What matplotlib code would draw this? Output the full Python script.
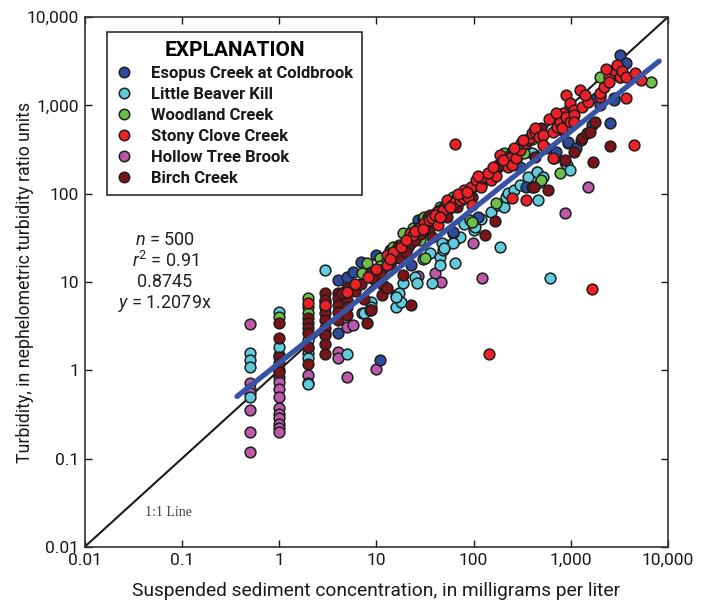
import matplotlib
matplotlib.use('Agg')
import matplotlib.pyplot as plt
from matplotlib import font_manager
from matplotlib.lines import Line2D
import numpy as np

names = {f.name for f in font_manager.fontManager.ttflist}
if 'Liberation Sans Narrow' in names:
    FAM = 'Liberation Sans Narrow'
elif 'Roboto' in names:
    FAM = 'Roboto'
else:
    FAM = 'DejaVu Sans'
plt.rcParams['font.family'] = [FAM, 'DejaVu Sans']
plt.rcParams['mathtext.fontset'] = 'custom'
plt.rcParams['mathtext.rm'] = FAM
plt.rcParams['mathtext.it'] = FAM + ':italic'

# ---------------- data ----------------
esopus_x = [4, 4.0, 5.0, 5.7, 7.0, 10, 13.8, 17.5, 11, 23, 27, 45, 61, 111, 110, 190, 300, 350,
            560, 680, 700, 940, 1140, 1650, 1800, 1990, 2020, 2520, 2800, 2800, 3190, 3190, 3700]
esopus_y = [2.65, 10.6, 11.4, 13, 16.9, 20, 23, 25, 1.3, 15.6, 50, 60, 37, 55, 133, 220, 200, 120,
            330, 255, 300, 385, 330, 600, 1220, 1010, 1320, 630, 1220, 1150, 2100, 3730, 3030]

lbk_x = [0.5, 0.5, 0.5, 0.5, 1, 1, 2, 2, 2, 2, 2, 3, 5, 3.0,
         7.5, 8.9, 8.9, 8.6, 16, 17, 16, 18, 16, 19, 25, 26.5, 37,
         45, 45, 48, 52, 64, 64, 72, 61, 61, 47, 50, 36,
         100, 103, 152, 178, 205, 218, 225, 187,
         610, 361, 447, 515, 480, 460, 430, 400, 870, 910, 980, 940,
         30, 80, 120, 260, 300]
lbk_y = [1.57, 1.31, 1.1, 0.5, 4.6, 1.85, 5.2, 2.2, 1.57, 1.38, 0.70, 6.0, 1.53, 13.7,
         4.5, 6.0, 5.2, 4.8, 7.1, 7.5, 5.2, 6.0, 6.8, 9.8, 11.4, 9.8, 9.8,
         19, 15.6, 23, 26, 16.5, 30, 32, 36, 28, 28, 24, 21.5,
         39, 42, 62, 75, 70, 92, 103, 25,
         11.1, 155, 175, 155, 136, 84, 275, 290, 230, 210, 185, 375,
         18, 45, 52, 110, 125]

wc_x = [1, 2, 2, 7.1, 8.0, 10.9, 12.9, 15, 19, 28, 24, 30, 31, 32, 42,
        45, 61, 89, 92, 96, 170, 205, 205, 250, 280, 330, 500, 720, 770, 6750,
        11, 17, 22, 38, 50, 65, 110, 140, 180, 400, 950, 2000]
wc_y = [4.0, 6.6, 4.5, 12.7, 16.5, 18.8, 17.8, 25, 36, 30, 41, 53, 55, 18.8, 62,
        71, 92, 105, 50, 48, 79, 260, 290, 300, 260, 290, 143, 570, 170, 1850,
        15, 26, 28, 50, 70, 85, 130, 160, 200, 420, 900, 2100]

scc_x = [2, 3, 5, 6.0, 8.2, 12.9, 12.9, 15, 18, 22, 24, 27, 28, 31, 35, 37, 42, 43, 48, 53,
         53, 60, 64, 72, 78, 80, 88, 95, 96, 105, 120, 124, 133, 150, 170, 187, 225, 236, 250, 250,
         275, 300, 310, 350, 350, 360, 380, 400, 430, 430, 470, 520, 520, 650, 650, 720, 770, 810,
         840, 900, 900, 980, 980, 1080, 1080, 1090, 1240, 1300, 1500, 1990, 2020, 2200, 2500, 2500,
         2800, 3000, 3190, 3400, 3700, 3700, 4500, 4600, 5300, 65, 1650, 144,
         10, 14, 20, 25, 30, 40, 45, 58, 70, 85, 110, 140, 160, 200, 260, 320, 600, 700, 1400, 2300]
scc_y = [5.8, 5.5, 7.7, 9.5, 11.4, 15.6, 20, 22, 25, 36, 34, 41, 42, 46, 50, 53, 62, 44, 66, 79,
         85, 75, 81, 85, 90, 110, 92, 120, 75, 143, 120, 150, 155, 143, 160, 275, 200, 255, 90, 210,
         255, 315, 375, 375, 85, 405, 430, 490, 500, 560, 435, 465, 355, 500, 255, 570, 650, 560,
         820, 1320, 740, 1060, 650, 890, 780, 650, 1500, 960, 1100, 1250, 1390, 1620, 2100, 1850,
         2520, 2880, 2100, 2420, 2100, 1220, 355, 2330, 1940, 365, 8.4, 1.55,
         14, 18, 30, 38, 40, 58, 55, 70, 100, 105, 160, 170, 200, 240, 330, 400, 700, 820, 1300, 2600]

htb_x = [0.5, 0.5, 0.5, 0.5, 0.5, 0.5, 0.5,
         1, 1, 1, 1, 1, 1, 1, 1, 1, 1, 1, 1,
         2, 2, 2, 3, 4, 4, 5, 5, 5.7, 7.1, 9.9, 27, 40, 46, 122, 98, 447, 870, 1500]
htb_y = [3.35, 0.72, 0.62, 0.55, 0.36, 0.20, 0.12,
         1.5, 1.0, 0.84, 0.74, 0.62, 0.50, 0.37, 0.32, 0.29, 0.25, 0.22, 0.20,
         1.8, 0.89, 0.72, 2.65, 1.6, 1.38, 3.1, 0.84, 3.3, 4.5, 1.04, 11.6, 12.7, 10, 11.1, 28, 175, 61, 120]

bc_x = [1, 1, 1, 1, 1, 2, 2, 2, 2, 2, 2, 3, 3, 3, 3, 3, 3, 3, 3, 3,
        4, 4, 4, 4, 4, 5, 5, 5, 5, 4.4, 8.0, 8.9, 8.9, 9.7, 10.9, 10.9, 11.4, 11.8, 12.9,
        16.8, 17.5, 19, 21, 23, 25, 34, 35, 36, 37, 47, 54, 60, 67, 75, 85, 96, 120, 130,
        147, 165, 165, 200, 250, 300, 400, 420, 430, 580, 820, 870, 1070, 1260, 1310, 1480,
        1570, 1680, 1770, 2520,
        14, 20, 28, 32, 40, 45, 55, 70, 90, 110, 180, 220, 350, 500, 700,
        6, 7, 7.5, 9]
bc_y = [3.4, 2.3, 1.4, 1.21, 0.97, 3.9, 3.4, 3.0, 2.65, 1.84, 1.18, 7.5, 6.3, 5.2, 4.5, 3.7, 3.0, 2.5, 2.0, 1.53,
        7.5, 6.6, 5.5, 4.6, 3.7, 8.6, 6.3, 5.2, 4.2, 7.5, 3.4, 4.8, 13, 10.6, 13.7, 12.7, 7.1, 9.3, 8.6,
        25, 18.8, 12, 25, 5.5, 30, 55, 40, 58, 32, 62, 55, 70, 71, 85, 97, 92, 126, 34,
        170, 185, 49, 230, 280, 330, 118, 120, 260, 110, 530, 240, 300, 405, 430, 490,
        500, 230, 650, 350,
        16, 22, 35, 45, 50, 65, 80, 95, 110, 130, 210, 260, 400, 560, 760,
        8.0, 9.5, 6.5, 11]

series = [
    ('Esopus Creek at Coldbrook', esopus_x, esopus_y, '#2f4b9c', 3),
    ('Little Beaver Kill', lbk_x, lbk_y, '#5fcbdc', 2),
    ('Woodland Creek', wc_x, wc_y, '#6cc04a', 4),
    ('Stony Clove Creek', scc_x, scc_y, '#ee1f26', 6),
    ('Hollow Tree Brook', htb_x, htb_y, '#bb5aaa', 1),
    ('Birch Creek', bc_x, bc_y, '#7b1419', 5),
]

n_text = '500'
r2_text = '0.91'
exp_text = '0.8745'
coef = 1.2079
expo = 0.8745
fit_range = [0.37, 8100]

tick_vals = [0.01, 0.1, 1, 10, 100, 1000, 10000]
tick_labels = ['0.01', '0.1', '1', '10', '100', '1,000', '10,000']

# ---------------- figure ----------------
fig = plt.figure(figsize=(7.05, 6.04), dpi=100)
ax = fig.add_axes([84.5 / 705, 1 - 547 / 604, (668 - 84.5) / 705, (547 - 17) / 604])
ax.set_xscale('log')
ax.set_yscale('log')
ax.set_xlim(0.01, 10000)
ax.set_ylim(0.01, 10000)

ax.plot([0.01, 10000], [0.01, 10000], color='#1a1a1a', lw=1.5, zorder=1)

for name, xs, ys, col, z in series:
    ax.scatter(xs, ys, s=60, c=col, edgecolors='#1e1e1e', linewidths=1.1, zorder=2 + z * 0.1)

xf = np.geomspace(fit_range[0], fit_range[1], 100)
ax.plot(xf, coef * xf ** expo, color='#3953a4', lw=3.8, solid_capstyle='round', zorder=5)

ax.xaxis.set_major_locator(matplotlib.ticker.FixedLocator(tick_vals))
ax.yaxis.set_major_locator(matplotlib.ticker.FixedLocator(tick_vals))
ax.xaxis.set_major_formatter(matplotlib.ticker.FixedFormatter(tick_labels))
ax.yaxis.set_major_formatter(matplotlib.ticker.FixedFormatter(tick_labels))
ax.xaxis.set_minor_locator(matplotlib.ticker.NullLocator())
ax.yaxis.set_minor_locator(matplotlib.ticker.NullLocator())
ax.tick_params(which='major', direction='in', length=5, width=1.0, top=True, right=True,
               labelsize=12.5, pad=4, colors='#1a1a1a')
for sp in ax.spines.values():
    sp.set_linewidth(1.2)
    sp.set_color('#333333')

ax.set_xlabel('Suspended sediment concentration, in milligrams per liter', fontsize=13.8,
              color='#1a1a1a')
ax.set_ylabel('Turbidity, in nephelometric turbidity ratio units', fontsize=12.8,
              color='#1a1a1a')
ax.xaxis.set_label_coords(0.5, -(582 - 547) / 530)
ax.yaxis.set_label_coords(-(84.5 - 34) / 583.5, 0.5)

# stats text
cx = (165 - 84.5) / 583.5
for i, t in enumerate([r'$\mathit{n}$ = ' + n_text, r'$\mathit{r}^2$ = ' + r2_text, exp_text,
                       r'$\mathit{y}$ = ' + str(coef) + 'x']):
    ax.text(cx, (547 - (240 + i * 21)) / 530, t, transform=ax.transAxes, ha='center', va='center',
            fontsize=13, color='#222222')

ax.text((145 - 84.5) / 583.5, (547 - 512) / 530, '1:1 Line', transform=ax.transAxes,
        family='Liberation Serif', fontsize=10, color='#444444', ha='left', va='center')

handles = [Line2D([], [], marker='o', ls='none', markersize=7.5, markerfacecolor=c,
                  markeredgecolor='#1e1e1e', markeredgewidth=1.1, label=n)
           for n, _, _, c, _ in series]
leg = ax.legend(handles=handles, loc='upper left', bbox_to_anchor=((107 - 84.5) / 583.5, (547 - 32) / 530),
                borderaxespad=0, frameon=True, fancybox=False, edgecolor='#1a1a1a', framealpha=1,
                title='EXPLANATION', prop={'weight': 'bold', 'size': 12}, labelspacing=0.36,
                handletextpad=1.2, borderpad=0.55, handlelength=0.9, alignment='center')
leg.get_title().set_fontweight('bold')
leg.get_title().set_fontsize(15)
leg.get_frame().set_linewidth(1.1)
for t in leg.get_texts():
    t.set_color('#1a1a1a')
leg.set_zorder(10)

fig.savefig('out.png', dpi=100)
